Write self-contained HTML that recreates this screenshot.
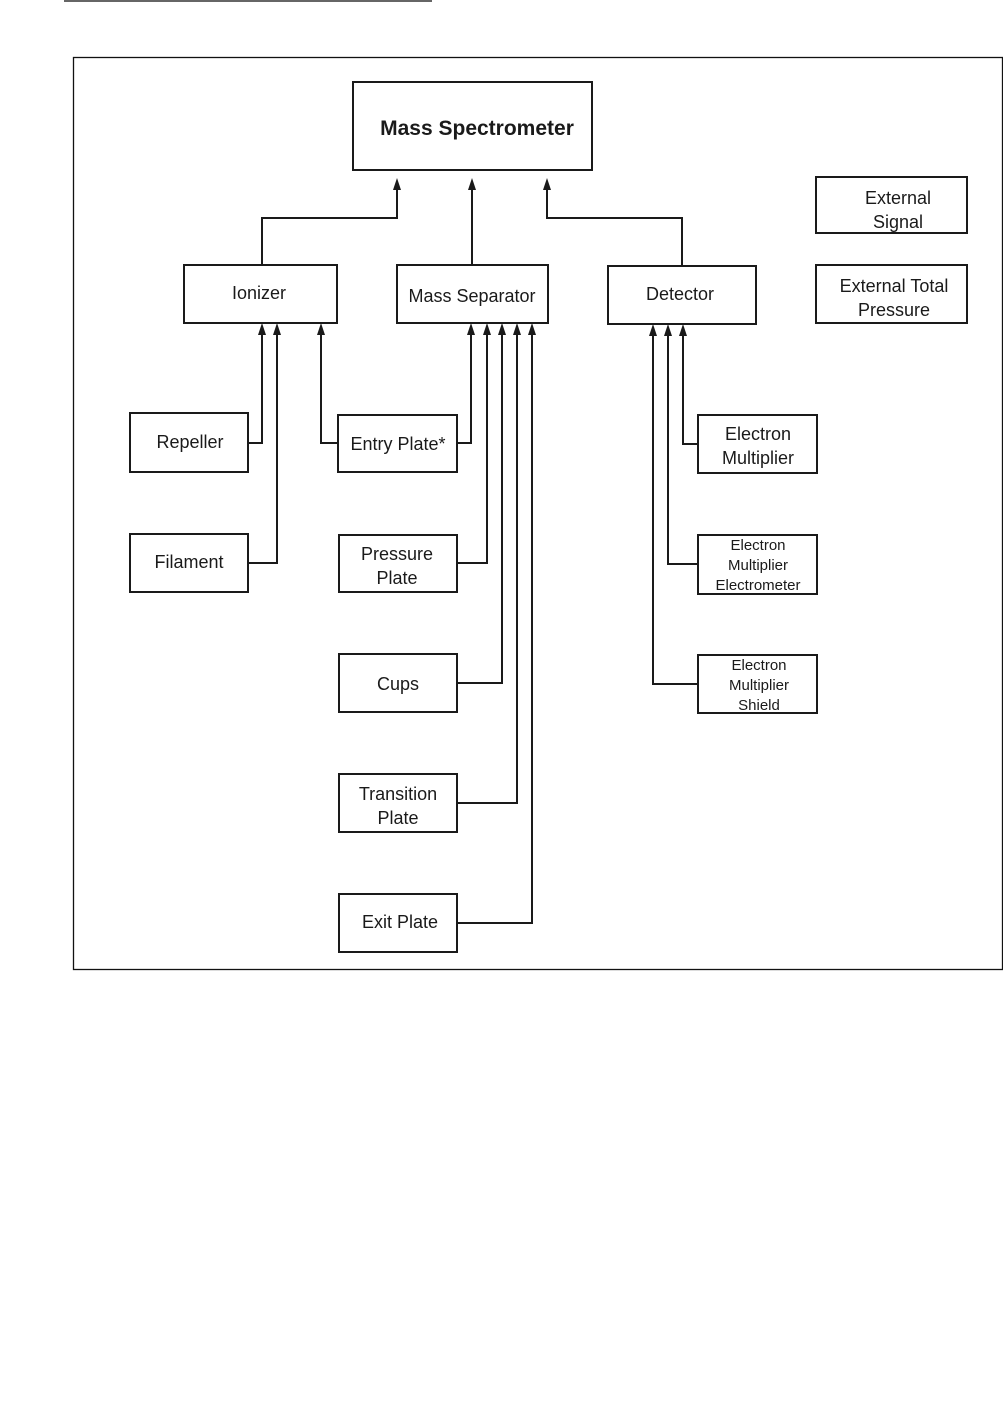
<!DOCTYPE html>
<html><head><meta charset="utf-8"><style>
html,body{margin:0;padding:0;background:#fff;}
svg{display:block;}
text{font-family:"Liberation Sans",Arial,sans-serif;fill:#1a1a1a;}
</style></head><body>
<svg width="1003" height="1411" viewBox="0 0 1003 1411" xmlns="http://www.w3.org/2000/svg">
<defs>
<marker id="a" viewBox="0 0 8 10" refX="4" refY="0" markerWidth="8" markerHeight="10" markerUnits="userSpaceOnUse" orient="auto-start-reverse">
</marker>
</defs>
<line x1="64" y1="1" x2="432" y2="1" stroke="#666" stroke-width="2"/>
<rect x="73.5" y="57.5" width="929" height="912" fill="none" stroke="#111" stroke-width="1.3"/>
<g fill="none" stroke="#1a1a1a" stroke-width="2">
<rect x="353" y="82" width="239" height="88"/>
<rect x="184" y="265" width="153" height="58"/>
<rect x="397" y="265" width="151" height="58"/>
<rect x="608" y="266" width="148" height="58"/>
<rect x="816" y="177" width="151" height="56"/>
<rect x="816" y="265" width="151" height="58"/>
<rect x="130" y="413" width="118" height="59"/>
<rect x="130" y="534" width="118" height="58"/>
<rect x="338" y="415" width="119" height="57"/>
<rect x="339" y="535" width="118" height="57"/>
<rect x="339" y="654" width="118" height="58"/>
<rect x="339" y="774" width="118" height="58"/>
<rect x="339" y="894" width="118" height="58"/>
<rect x="698" y="415" width="119" height="58"/>
<rect x="698" y="535" width="119" height="59"/>
<rect x="698" y="655" width="119" height="58"/>
<!-- connectors -->
<polyline points="262,265 262,218 397,218 397,188"/>
<polyline points="472,265 472,188"/>
<polyline points="682,266 682,218 547,218 547,188"/>
<polyline points="248,443 262,443 262,331"/>
<polyline points="248,563 277,563 277,331"/>
<polyline points="338,443 321,443 321,331"/>
<polyline points="457,443 471,443 471,331"/>
<polyline points="457,563 487,563 487,331"/>
<polyline points="457,683 502,683 502,331"/>
<polyline points="457,803 517,803 517,331"/>
<polyline points="457,923 532,923 532,331"/>
<polyline points="698,444 683,444 683,332"/>
<polyline points="698,564 668,564 668,332"/>
<polyline points="698,684 653,684 653,332"/>
</g>
<g fill="#1a1a1a">
<polygon points="397,178 393,190 401,190"/>
<polygon points="472,178 468,190 476,190"/>
<polygon points="547,178 543,190 551,190"/>
<polygon points="262,323 258,335 266,335"/>
<polygon points="277,323 273,335 281,335"/>
<polygon points="321,323 317,335 325,335"/>
<polygon points="471,323 467,335 475,335"/>
<polygon points="487,323 483,335 491,335"/>
<polygon points="502,323 498,335 506,335"/>
<polygon points="517,323 513,335 521,335"/>
<polygon points="532,323 528,335 536,335"/>
<polygon points="653,324 649,336 657,336"/>
<polygon points="668,324 664,336 672,336"/>
<polygon points="683,324 679,336 687,336"/>
</g>
<g font-size="18" text-anchor="middle">
<text x="477" y="135" font-size="21" font-weight="bold">Mass Spectrometer</text>
<text x="259" y="299">Ionizer</text>
<text x="472" y="302">Mass Separator</text>
<text x="680" y="300">Detector</text>
<text x="898" y="204">External</text>
<text x="898" y="228">Signal</text>
<text x="894" y="292">External Total</text>
<text x="894" y="316">Pressure</text>
<text x="190" y="448">Repeller</text>
<text x="189" y="568">Filament</text>
<text x="398" y="450">Entry Plate*</text>
<text x="397" y="560">Pressure</text>
<text x="397" y="584">Plate</text>
<text x="398" y="690">Cups</text>
<text x="398" y="800">Transition</text>
<text x="398" y="824">Plate</text>
<text x="400" y="928">Exit Plate</text>
<text x="758" y="440">Electron</text>
<text x="758" y="464">Multiplier</text>
</g>
<g font-size="15" text-anchor="middle">
<text x="758" y="550">Electron</text>
<text x="758" y="570">Multiplier</text>
<text x="758" y="590">Electrometer</text>
<text x="759" y="670">Electron</text>
<text x="759" y="690">Multiplier</text>
<text x="759" y="710">Shield</text>
</g>
</svg>
</body></html>
